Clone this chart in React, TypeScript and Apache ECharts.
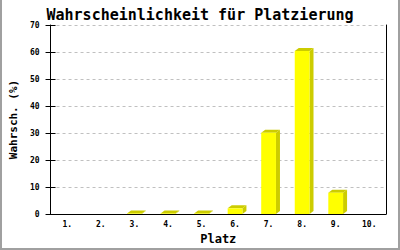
import React, { useEffect, useRef } from "react";
import * as echarts from "echarts";

const categories = ["1.", "2.", "3.", "4.", "5.", "6.", "7.", "8.", "9.", "10."];
const probabilities = [0, 0, 0.2, 0.2, 0.2, 2.1, 30.1, 60.4, 7.9, 0];
const yTicks = [0, 10, 20, 30, 40, 50, 60, 70];

const FONT = "DejaVu Sans Mono";

export default function App() {
  const ref = useRef<HTMLDivElement>(null);
  useEffect(() => {
    if (!ref.current) return;
    const chart = echarts.init(ref.current, null, { renderer: "svg" });
    const dx = 4;
    const dy = 3;
    chart.setOption({
      animation: false,
      backgroundColor: "#ffffff",
      title: {
        text: "Wahrscheinlichkeit für Platzierung",
        left: "center",
        top: 2,
        textStyle: { fontFamily: FONT, fontWeight: "bold", fontSize: 15, color: "#000" },
      },
      grid: { left: 43, right: 14, top: 25, bottom: 36, containLabel: false },
      xAxis: {
        type: "category",
        data: categories,
        name: "Platz",
        nameLocation: "middle",
        nameGap: 19,
        nameTextStyle: { fontFamily: FONT, fontWeight: "bold", fontSize: 12, color: "#000", verticalAlign: "top" },
        axisLine: { show: true, lineStyle: { color: "#000", width: 1 } },
        axisTick: { show: false },
        axisLabel: { fontFamily: FONT, fontSize: 8, fontWeight: "bold", color: "#000", margin: 6, interval: 0 },
        splitLine: { show: false },
      },
      yAxis: [
        {
          type: "value",
          min: 0,
          max: 70,
          interval: 10,
          name: "Wahrsch. (%)",
          nameLocation: "middle",
          nameGap: 29,
          nameTextStyle: { fontFamily: FONT, fontWeight: "bold", fontSize: 11, color: "#000" },
          axisLine: { show: true, lineStyle: { color: "#000", width: 1 } },
          axisTick: { show: true, length: 5, lineStyle: { color: "#000" } },
          axisLabel: {
            fontFamily: FONT,
            fontSize: 8,
            fontWeight: "bold",
            color: "#000",
            margin: 11,
            formatter: (v: number) => (yTicks.includes(v) ? String(v) : ""),
          },
          splitLine: { show: true, lineStyle: { color: "#c0c0c0", type: [3, 3], width: 1 } },
        },
        {
          type: "value",
          min: 0,
          max: 70,
          interval: 10,
          position: "left",
          axisLine: { show: false },
          axisTick: { show: true, inside: true, length: 5, lineStyle: { color: "#000" } },
          axisLabel: { show: false },
          splitLine: { show: false },
        },
        {
          type: "value",
          min: 0,
          max: 70,
          interval: 10,
          position: "right",
          axisLine: { show: true, lineStyle: { color: "#000", width: 1 } },
          axisTick: { show: false },
          axisLabel: { show: false },
          splitLine: { show: false },
        },
      ],
      graphic: [
        { type: "rect", shape: { x: 0, y: 0, width: 2, height: 250 }, style: { fill: "#a0a0a0" }, z: 100 },
        { type: "rect", shape: { x: 398, y: 0, width: 2, height: 250 }, style: { fill: "#a0a0a0" }, z: 100 },
        { type: "rect", shape: { x: 0, y: 248, width: 400, height: 2 }, style: { fill: "#a0a0a0" }, z: 100 },
      ],
      series: [
        {
          type: "custom",
          data: probabilities.map((v, i) => [i, v]),
          encode: { x: 0, y: 1 },
          renderItem: (params: any, api: any) => {
            const v = api.value(1);
            if (!v) return { type: "group", children: [] };
            const idx = api.value(0);
            const base = api.coord([idx, 0]);
            const top = api.coord([idx, v]);
            const bw = api.size([1, 0])[0] * 0.44;
            const x0 = top[0] - bw / 2;
            const x1 = top[0] + bw / 2;
            const yT = top[1];
            const yB = base[1];
            return {
              type: "group",
              children: [
                {
                  type: "polygon",
                  shape: { points: [[x1, yT], [x1 + dx, yT - dy], [x1 + dx, yB - dy], [x1, yB]] },
                  style: { fill: "#cccc00" },
                },
                {
                  type: "polygon",
                  shape: { points: [[x0, yT], [x0 + dx, yT - dy], [x1 + dx, yT - dy], [x1, yT]] },
                  style: { fill: "#cccc00" },
                },
                {
                  type: "rect",
                  shape: { x: x0, y: yT, width: bw, height: yB - yT },
                  style: { fill: "#ffff00" },
                },
              ],
            };
          },
        },
      ],
    });
    return () => chart.dispose();
  }, []);
  return (
    <div
      ref={ref}
      style={{ position: "fixed", left: 0, top: 0, width: 400, height: 250 }}
    />
  );
}
